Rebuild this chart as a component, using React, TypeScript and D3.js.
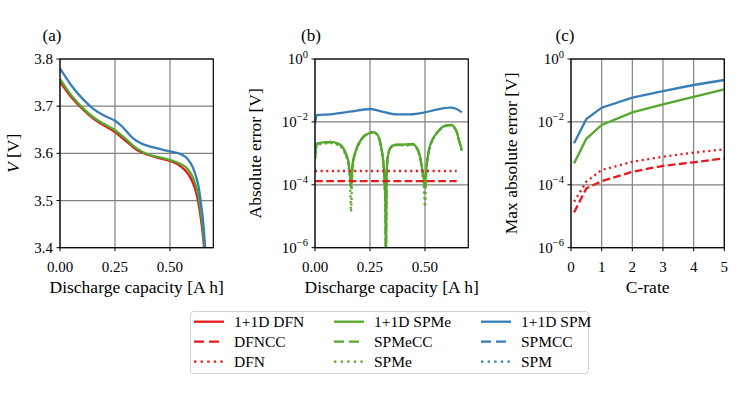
import React from "react";
import * as d3 from "d3";

const W = 747;
const H = 394;
const FONT = "'Liberation Serif', 'Times New Roman', serif";
const RED = "#e41a1c";
const GREEN = "#56a82c";
const BLUE = "#377eb8";
const LW = 2.3;
const DASHED = "7.8 3.4";
const DOTTED = "2.1 3.5";

// (a) terminal voltage vs discharge capacity
const dfnCap = [0, 0.05, 0.1, 0.15, 0.2, 0.25, 0.3, 0.35, 0.4, 0.45, 0.5, 0.55, 0.58, 0.6, 0.62, 0.635, 0.645, 0.652, 0.655];
const dfnV = [3.752, 3.72, 3.695, 3.674, 3.659, 3.645, 3.626, 3.607, 3.597, 3.59, 3.584, 3.572, 3.558, 3.542, 3.515, 3.48, 3.445, 3.415, 3.4];
const spmeCap = [0, 0.05, 0.1, 0.15, 0.2, 0.25, 0.3, 0.35, 0.4, 0.45, 0.5, 0.55, 0.58, 0.6, 0.62, 0.635, 0.645, 0.652, 0.657];
const spmeV = [3.758, 3.724, 3.698, 3.677, 3.662, 3.649, 3.63, 3.61, 3.598, 3.592, 3.586, 3.577, 3.567, 3.553, 3.528, 3.495, 3.46, 3.43, 3.4];
const spmCap = [0, 0.05, 0.1, 0.15, 0.2, 0.25, 0.28, 0.3, 0.33, 0.37, 0.43, 0.5, 0.55, 0.58, 0.6, 0.615, 0.63, 0.642, 0.652, 0.66];
const spmV = [3.78, 3.745, 3.717, 3.695, 3.68, 3.669, 3.658, 3.648, 3.633, 3.621, 3.612, 3.604, 3.598, 3.588, 3.574, 3.556, 3.53, 3.49, 3.45, 3.4];

// (b) absolute error vs discharge capacity
const spmeErrCap = [0, 0.008, 0.03, 0.068, 0.1, 0.114, 0.128, 0.14, 0.152, 0.159, 0.164, 0.168, 0.171, 0.18, 0.189, 0.205, 0.22, 0.24, 0.265, 0.28, 0.29, 0.298, 0.305, 0.311, 0.316, 0.32, 0.3225, 0.325, 0.328, 0.334, 0.341, 0.355, 0.371, 0.4, 0.432, 0.445, 0.46, 0.47, 0.48, 0.488, 0.495, 0.5, 0.504, 0.508, 0.515, 0.523, 0.535, 0.553, 0.57, 0.583, 0.6, 0.621, 0.635, 0.644, 0.655, 0.667];
const spmeSolidErr = [6.9e-4, 2.0e-3, 2.2e-3, 2.3e-3, 2.1e-3, 1.9e-3, 1.5e-3, 1.0e-3, 5.4e-4, 2.2e-4, 9e-5, 2.0e-4, 4.5e-4, 9e-4, 1.45e-3, 2.4e-3, 3.4e-3, 4.2e-3, 4.7e-3, 4.2e-3, 3.2e-3, 2.0e-3, 1.1e-3, 5e-4, 1.5e-4, 2.5e-5, 5e-7, 1e-4, 5e-4, 1.0e-3, 1.45e-3, 1.8e-3, 1.9e-3, 1.9e-3, 1.95e-3, 2.0e-3, 1.6e-3, 1.2e-3, 6.5e-4, 3e-4, 1.5e-4, 8e-5, 2e-4, 4.3e-4, 1.0e-3, 1.75e-3, 2.8e-3, 4.4e-3, 6e-3, 7.1e-3, 7.8e-3, 8e-3, 6.5e-3, 4.9e-3, 2.6e-3, 1.3e-3];
const spmeccErr = [6.8e-4, 1.95e-3, 2.15e-3, 2.25e-3, 2.05e-3, 1.85e-3, 1.45e-3, 9.5e-4, 5e-4, 2e-4, 8e-5, 1.8e-4, 4.3e-4, 8.8e-4, 1.4e-3, 2.35e-3, 3.35e-3, 4.15e-3, 4.65e-3, 4.15e-3, 3.15e-3, 1.95e-3, 1.05e-3, 4.8e-4, 1.4e-4, 2.2e-5, 5e-7, 9e-5, 4.8e-4, 9.8e-4, 1.4e-3, 1.75e-3, 1.85e-3, 1.85e-3, 1.9e-3, 1.95e-3, 1.55e-3, 1.15e-3, 6.2e-4, 2.8e-4, 1.4e-4, 7e-5, 1.8e-4, 4.1e-4, 9.8e-4, 1.7e-3, 2.75e-3, 4.35e-3, 5.9e-3, 7.0e-3, 7.7e-3, 7.9e-3, 6.4e-3, 4.8e-3, 2.55e-3, 1.25e-3];
const spmeDotErr = [6.5e-4, 1.8e-3, 2.0e-3, 2.1e-3, 1.9e-3, 1.7e-3, 1.3e-3, 8.5e-4, 4e-4, 1.3e-4, 1.4e-5, 1.1e-4, 3.6e-4, 8e-4, 1.35e-3, 2.3e-3, 3.3e-3, 4.1e-3, 4.6e-3, 4.1e-3, 3.1e-3, 1.9e-3, 1.0e-3, 4.2e-4, 1.1e-4, 1.2e-5, 5e-7, 6e-5, 4.2e-4, 9e-4, 1.35e-3, 1.7e-3, 1.8e-3, 1.8e-3, 1.85e-3, 1.9e-3, 1.5e-3, 1.1e-3, 5.5e-4, 2.2e-4, 8e-5, 2e-5, 1.1e-4, 3.6e-4, 9e-4, 1.65e-3, 2.7e-3, 4.3e-3, 5.8e-3, 6.9e-3, 7.6e-3, 7.8e-3, 6.3e-3, 4.7e-3, 2.5e-3, 1.2e-3];
const dfnErrCap = [0, 0.2, 0.4, 0.644];
const dfnccErr = [1.3e-4, 1.3e-4, 1.3e-4, 1.3e-4];
const dfnErr = [2.75e-4, 2.75e-4, 2.75e-4, 2.75e-4];
const spmErrCap = [0, 0.009, 0.068, 0.159, 0.25, 0.295, 0.371, 0.432, 0.5, 0.553, 0.614, 0.644, 0.667];
const spmErr = [0.0089, 0.0166, 0.0174, 0.0211, 0.0257, 0.0222, 0.0174, 0.0174, 0.0201, 0.0245, 0.0283, 0.0257, 0.0201];

// (c) max absolute error vs C-rate
const cRates = [0.1, 0.5, 1, 2, 3, 4, 5];
const spmMaxErr = [2.1e-3, 0.0124, 0.0283, 0.059, 0.096, 0.149, 0.215];
const spmeMaxErr = [4.8e-4, 2.9e-3, 8e-3, 0.02, 0.036, 0.063, 0.108];
const dfnMaxErr = [2.9e-5, 1.26e-4, 2.95e-4, 5.4e-4, 7.8e-4, 1.05e-3, 1.35e-3];
const dfnccMaxErr = [1.33e-5, 7.7e-5, 1.3e-4, 2.6e-4, 4e-4, 5.2e-4, 6.9e-4];

const capTicks = [0, 0.25, 0.5];
const voltTicks = [3.4, 3.5, 3.6, 3.7, 3.8];
const logTicks = [1e-6, 1e-4, 1e-2, 1];
const rateTicks = [0, 1, 2, 3, 4, 5];

const legendLabels = [
  ["1+1D DFN", "DFNCC", "DFN"],
  ["1+1D SPMe", "SPMeCC", "SPMe"],
  ["1+1D SPM", "SPMCC", "SPM"],
];
const legendColors = [RED, GREEN, BLUE];

const TOP = 59;
const BOTTOM = 247.7;

type Series = { x: number[]; y: number[]; color: string; dash?: string };

function supLabel(v: number) {
  const e = Math.round(Math.log10(v));
  return (
    <>
      <tspan>10</tspan>
      <tspan dy={-6.5} fontSize={10.5}>
        {e < 0 ? "\u2212" + Math.abs(e) : String(e)}
      </tspan>
    </>
  );
}

function Panel(props: {
  id: string;
  left: number;
  right: number;
  x: d3.ScaleLinear<number, number>;
  y: d3.ScaleLinear<number, number> | d3.ScaleLogarithmic<number, number>;
  xTicks: number[];
  yTicks: number[];
  xFmt: (v: number) => React.ReactNode;
  yFmt: (v: number) => React.ReactNode;
  series: Series[];
  curve: d3.CurveFactory;
  title: string;
  titleX: number;
  xLabel: React.ReactNode;
  yLabel: React.ReactNode;
  yLabelX: number;
}) {
  const { id, left, right, x, y, series } = props;
  const line = (s: Series) =>
    d3
      .line<number>()
      .x((_, i) => x(s.x[i]))
      .y((d) => y(d))
      .curve(props.curve)(s.y) || "";
  return (
    <g>
      <defs>
        <clipPath id={id}>
          <rect x={left} y={TOP} width={right - left} height={BOTTOM - TOP} />
        </clipPath>
      </defs>
      {props.xTicks.map((t) => (
        <line key={"gx" + t} x1={x(t)} x2={x(t)} y1={TOP} y2={BOTTOM} stroke="#808080" strokeWidth={1.2} />
      ))}
      {props.yTicks.map((t) => (
        <line key={"gy" + t} x1={left} x2={right} y1={y(t)} y2={y(t)} stroke="#808080" strokeWidth={1.2} />
      ))}
      <g clipPath={`url(#${id})`}>
        {series.map((s, i) => (
          <path
            key={i}
            d={line(s)}
            fill="none"
            stroke={s.color}
            strokeWidth={LW}
            strokeDasharray={s.dash}
          />
        ))}
      </g>
      <rect x={left} y={TOP} width={right - left} height={BOTTOM - TOP} fill="none" stroke="#000" strokeWidth={1.2} />
      {props.xTicks.map((t) => (
        <g key={"tx" + t}>
          <line x1={x(t)} x2={x(t)} y1={BOTTOM} y2={BOTTOM + 3.5} stroke="#000" strokeWidth={1} />
          <text x={x(t)} y={272} textAnchor="middle" fontSize={15}>
            {props.xFmt(t)}
          </text>
        </g>
      ))}
      {props.yTicks.map((t) => (
        <g key={"ty" + t}>
          <line x1={left - 3.5} x2={left} y1={y(t)} y2={y(t)} stroke="#000" strokeWidth={1} />
          <text x={left - 7} y={y(t) + 5} textAnchor="end" fontSize={15}>
            {props.yFmt(t)}
          </text>
        </g>
      ))}
      <text x={props.titleX} y={41} textAnchor="middle" fontSize={17}>
        {props.title}
      </text>
      <text x={(left + right) / 2} y={293} textAnchor="middle" fontSize={17.5}>
        {props.xLabel}
      </text>
      <text
        transform={`translate(${props.yLabelX},${(TOP + BOTTOM) / 2}) rotate(-90)`}
        textAnchor="middle"
        fontSize={17.5}
      >
        {props.yLabel}
      </text>
    </g>
  );
}

export default function App() {
  const xa = d3.scaleLinear().domain([0, 0.697]).range([60, 213.3]);
  const ya = d3.scaleLinear().domain([3.4, 3.8]).range([BOTTOM, TOP]);
  const xb = d3.scaleLinear().domain([0, 0.697]).range([315, 468.3]);
  const yb = d3.scaleLog().domain([1e-6, 1]).range([BOTTOM, TOP]);
  const xc = d3.scaleLinear().domain([0, 5]).range([571, 724.3]);
  const yc = d3.scaleLog().domain([1e-6, 1]).range([BOTTOM, TOP]);

  const capFmt = (v: number) => v.toFixed(2);

  const legendX = [194, 334, 481];
  const legendY = [321.7, 341.7, 361.7];
  const legendDash = [undefined, "10 5", "2.4 4.2"];

  return (
    <svg
      width={W}
      height={H}
      style={{ position: "absolute", left: 0, top: 0, background: "#fff" }}
      fontFamily={FONT}
      fill="#000"
    >
      <rect width={W} height={H} fill="#fff" />
      <Panel
        id="clipA"
        left={60}
        right={213.3}
        x={xa}
        y={ya}
        xTicks={capTicks}
        yTicks={voltTicks}
        xFmt={capFmt}
        yFmt={(v) => v.toFixed(1)}
        curve={d3.curveMonotoneX}
        series={[
          { x: dfnCap, y: dfnV, color: RED },
          { x: spmeCap, y: spmeV, color: GREEN },
          { x: spmCap, y: spmV, color: BLUE },
        ]}
        title="(a)"
        titleX={52}
        xLabel={"Discharge capacity [A\u2009h]"}
        yLabel={
          <>
            <tspan fontStyle="italic">V</tspan> [V]
          </>
        }
        yLabelX={19}
      />
      <Panel
        id="clipB"
        left={315}
        right={468.3}
        x={xb}
        y={yb}
        xTicks={capTicks}
        yTicks={logTicks}
        xFmt={capFmt}
        yFmt={supLabel}
        curve={d3.curveMonotoneX}
        series={[
          { x: spmErrCap, y: spmErr, color: BLUE },
          { x: spmeErrCap, y: spmeSolidErr, color: GREEN },
          { x: spmeErrCap, y: spmeccErr, color: GREEN, dash: DASHED },
          { x: spmeErrCap, y: spmeDotErr, color: GREEN, dash: DOTTED },
          { x: dfnErrCap, y: dfnccErr, color: RED, dash: DASHED },
          { x: dfnErrCap, y: dfnErr, color: RED, dash: DOTTED },
        ]}
        title="(b)"
        titleX={311}
        xLabel={"Discharge capacity [A\u2009h]"}
        yLabel="Absolute error [V]"
        yLabelX={261}
      />
      <Panel
        id="clipC"
        left={571}
        right={724.3}
        x={xc}
        y={yc}
        xTicks={rateTicks}
        yTicks={logTicks}
        xFmt={(v) => String(v)}
        yFmt={supLabel}
        curve={d3.curveLinear}
        series={[
          { x: cRates, y: spmMaxErr, color: BLUE },
          { x: cRates, y: spmeMaxErr, color: GREEN },
          { x: cRates, y: dfnMaxErr, color: RED, dash: DOTTED },
          { x: cRates, y: dfnccMaxErr, color: RED, dash: DASHED },
        ]}
        title="(c)"
        titleX={565}
        xLabel="C-rate"
        yLabel="Max absolute error [V]"
        yLabelX={517}
      />
      <rect x={190.5} y={311.5} width={398} height={62} rx={3} fill="#fff" fillOpacity={0.8} stroke="#d0d0d0" strokeWidth={1} />
      {legendLabels.map((col, ci) =>
        col.map((label, ri) => (
          <g key={label}>
            <line
              x1={legendX[ci]}
              x2={legendX[ci] + 30}
              y1={legendY[ri]}
              y2={legendY[ri]}
              stroke={legendColors[ci]}
              strokeWidth={LW}
              strokeDasharray={legendDash[ri]}
            />
            <text x={legendX[ci] + 40} y={legendY[ri] + 5} fontSize={15.5}>
              {label}
            </text>
          </g>
        ))
      )}
    </svg>
  );
}
